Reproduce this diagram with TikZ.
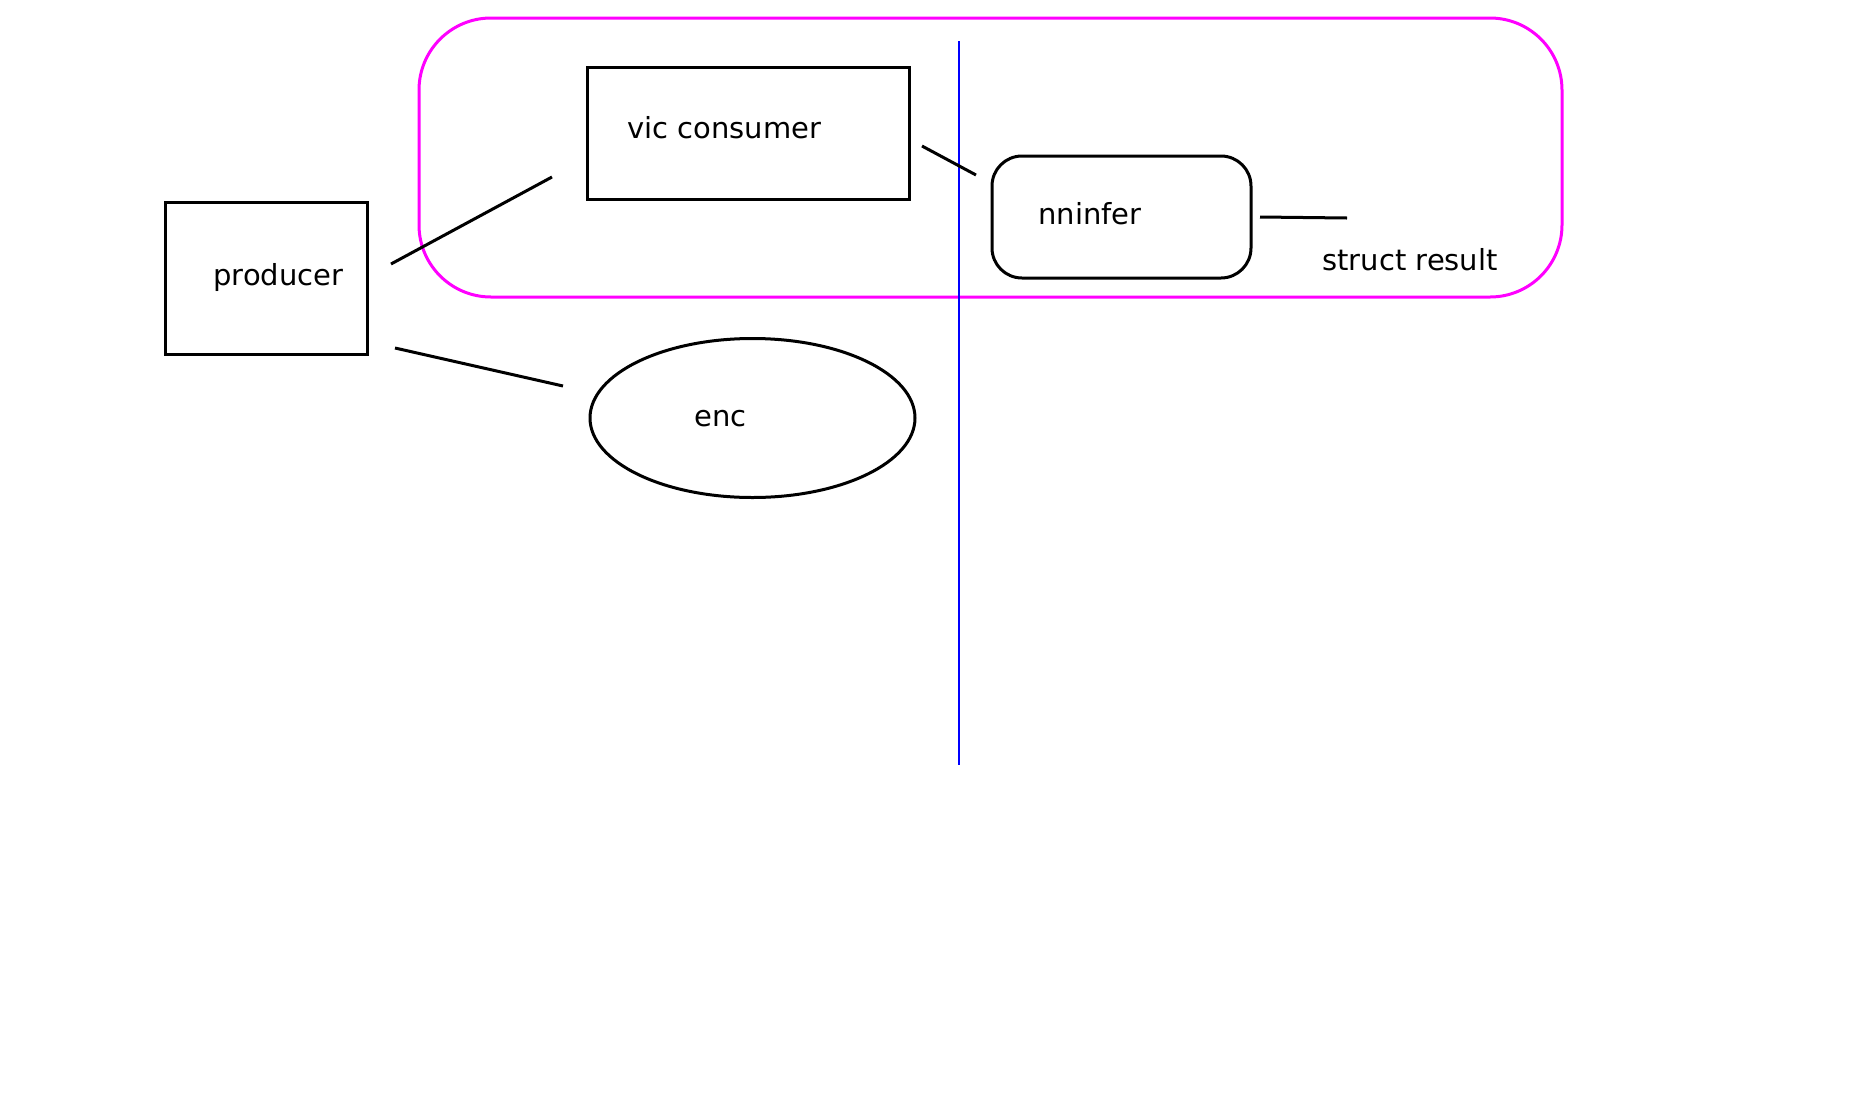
\documentclass[tikz,border=0pt]{standalone}
\usepackage{fontspec}
\setmainfont{DejaVu Sans}
\usetikzlibrary{shapes.geometric}
\definecolor{grpmag}{HTML}{FF00FF}
\definecolor{divblue}{HTML}{0000FF}
\begin{document}
\begin{tikzpicture}[x=0.5pt,y=-0.5pt,
  box/.style={draw=black, line width=1.5pt, inner sep=0pt, outer sep=0pt},
  lbl/.style={font=\fontsize{14.5}{17}\selectfont, inner sep=0pt, anchor=base west},
  conn/.style={draw=black, line width=1.5pt}]
\useasboundingbox (0,0) rectangle (1849,1104);
% group
\draw[grpmag, line width=1.5pt, rounded corners=36pt] (419,18) rectangle (1562,297);
% nodes
\node[box, minimum width=101pt, minimum height=76pt] (prod) at (266,278) {};
\node[box, minimum width=161pt, minimum height=66pt] (vic) at (748,133) {};
\node[box, rounded corners=15pt, minimum width=129.5pt, minimum height=61pt] (nn) at (1121.5,217) {};
\node[box, ellipse, minimum width=162.5pt, minimum height=79.5pt] (enc) at (752.5,418) {};
% labels
\node[lbl] (tprod) at (213,285) {producer};
\node[lbl] (tvic) at (627,138) {vic consumer};
\node[lbl] (tnn) at (1038,224) {nninfer};
\node[lbl] (tenc) at (694,426) {enc};
\node[lbl] (res) at (1322,270) {struct result};
% divider
\coordinate (dtop) at (959,41);
\coordinate (dbot) at (959,765);
\draw[divblue, line width=1.4pt] (dtop) -- (dbot);
% connectors
\coordinate (a1) at (391,264); \coordinate (a2) at (552,177);
\coordinate (b1) at (395,348); \coordinate (b2) at (563,386);
\coordinate (c1) at (922,146); \coordinate (c2) at (976,175);
\coordinate (d1) at (1260,217); \coordinate (d2) at (1347,218);
\draw[conn] (a1) -- (a2);
\draw[conn] (b1) -- (b2);
\draw[conn] (c1) -- (c2);
\draw[conn] (d1) -- (d2);
\end{tikzpicture}
\end{document}
